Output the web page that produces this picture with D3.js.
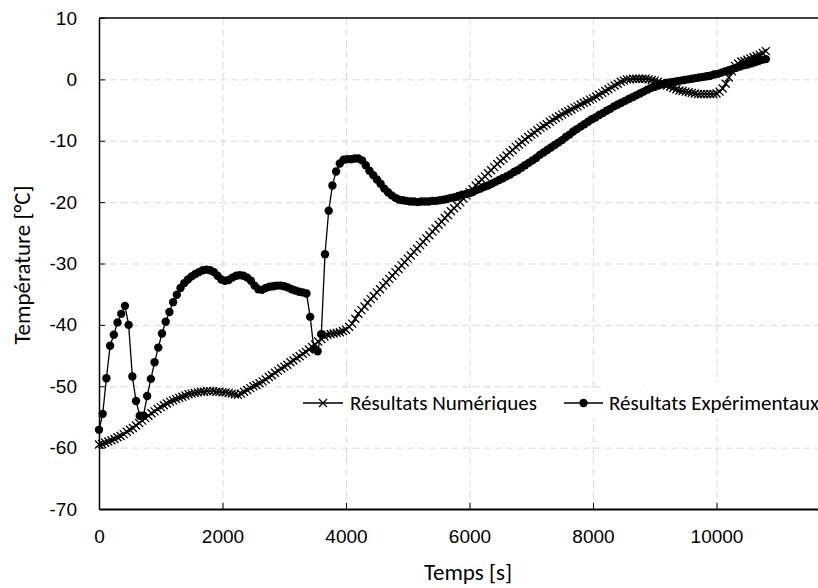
<!DOCTYPE html>
<html>
<head>
<meta charset="utf-8">
<script src="https://cdn.jsdelivr.net/npm/d3@7"></script>
<style>
  body { margin: 0; background: #fff; }
  #chart svg { display: block; font-family: Carlito, Calibri, Lato, sans-serif; }
</style>
</head>
<body>
<div id="chart"></div>
<script>
// Numerical results, one value every 50 s from 0 s
const numStep = 50
const numTemps = [
    -59.5, -59.4, -59.2, -59.0, -58.8, -58.6, -58.3, -58.1, -57.8, -57.4, -57.1, -56.8, -56.4, -56.0, -55.6, -55.2, -54.8, -54.4, -54.1, -53.7,
    -53.4, -53.1, -52.8, -52.5, -52.3, -52.1, -51.9, -51.7, -51.5, -51.3, -51.2, -51.1, -51.0, -50.9, -50.9, -50.8, -50.8, -50.8, -50.9, -50.9,
    -51.0, -51.0, -51.1, -51.2, -51.3, -51.4, -51.2, -50.9, -50.6, -50.3, -50.0, -49.8, -49.5, -49.2, -48.9, -48.5, -48.2, -47.8, -47.5, -47.1,
    -46.8, -46.5, -46.1, -45.8, -45.4, -45.1, -44.7, -44.4, -44.0, -43.6, -43.2, -42.7, -42.3, -41.9, -41.6, -41.5, -41.4, -41.3, -41.2, -41.0,
    -40.8, -40.3, -39.8, -39.0, -38.2, -37.6, -37.0, -36.4, -35.8, -35.3, -34.7, -34.2, -33.6, -33.1, -32.5, -32.0, -31.4, -30.9, -30.3, -29.8,
    -29.2, -28.7, -28.1, -27.6, -27.0, -26.5, -25.9, -25.4, -24.8, -24.3, -23.7, -23.2, -22.6, -22.1, -21.5, -21.0, -20.5, -20.0, -19.4, -18.9,
    -18.4, -17.9, -17.3, -16.8, -16.3, -15.8, -15.3, -14.8, -14.3, -13.8, -13.3, -12.9, -12.4, -11.9, -11.5, -11.0, -10.6, -10.2, -9.8, -9.4,
    -9.0, -8.7, -8.3, -7.9, -7.6, -7.3, -6.9, -6.6, -6.3, -6.0, -5.7, -5.4, -5.2, -4.9, -4.6, -4.4, -4.1, -3.8, -3.6, -3.3,
    -3.1, -2.8, -2.5, -2.2, -1.9, -1.6, -1.3, -1.0, -0.7, -0.4, -0.2, 0.0, 0.0, 0.1, 0.1, 0.1, 0.1, 0.1, 0.0, -0.1,
    -0.2, -0.4, -0.6, -0.8, -1.0, -1.2, -1.4, -1.6, -1.8, -1.9, -2.0, -2.1, -2.2, -2.3, -2.4, -2.4, -2.4, -2.4, -2.4, -2.4,
    -2.3, -2.0, -1.5, -0.7, 0.3, 1.3, 2.2, 2.6, 2.9, 3.0, 3.2, 3.4, 3.6, 3.8, 4.0, 4.3, 4.6
]

// Experimental results, one value every 60 s from 0 s
const expStep = 60
const expTemps = [
    -57.1, -54.5, -48.7, -43.4, -41.6, -39.6, -38.2, -36.9, -40.0, -48.4,
    -52.4, -54.8, -54.8, -51.6, -48.8, -46.1, -43.7, -41.4, -39.5, -37.9,
    -36.3, -35.1, -34.0, -33.2, -32.6, -32.1, -31.7, -31.4, -31.1, -31.0,
    -31.1, -31.4, -32.0, -32.6, -32.8, -32.7, -32.3, -32.0, -31.9, -32.0,
    -32.3, -32.8, -33.6, -34.2, -34.3, -34.0, -33.8, -33.7, -33.6, -33.6,
    -33.7, -33.9, -34.2, -34.4, -34.6, -34.7, -34.9, -38.7, -43.9, -44.3,
    -41.5, -28.5, -21.4, -17.3, -15.0, -13.7, -13.1, -13.0, -13.0, -12.9,
    -12.9, -13.2, -14.0, -14.9, -15.6, -16.3, -17.0, -17.8, -18.4, -18.9,
    -19.3, -19.6, -19.7, -19.8, -19.9, -19.9, -20.0, -19.9, -19.9, -19.9,
    -19.8, -19.8, -19.7, -19.6, -19.5, -19.3, -19.2, -19.0, -18.8, -18.7,
    -18.5, -18.3, -18.0, -17.8, -17.5, -17.3, -17.0, -16.7, -16.4, -16.1,
    -15.8, -15.5, -15.1, -14.8, -14.4, -14.0, -13.6, -13.2, -12.8, -12.3,
    -11.9, -11.5, -11.1, -10.7, -10.3, -9.9, -9.4, -9.0, -8.5, -8.1,
    -7.7, -7.3, -6.9, -6.5, -6.2, -5.8, -5.5, -5.1, -4.8, -4.4,
    -4.1, -3.8, -3.5, -3.2, -2.9, -2.6, -2.3, -2.0, -1.7, -1.4,
    -1.2, -1.0, -0.8, -0.6, -0.5, -0.4, -0.3, -0.2, -0.1, 0.0,
    0.1, 0.2, 0.3, 0.4, 0.5, 0.6, 0.8, 0.9, 1.1, 1.3,
    1.5, 1.7, 1.9, 2.1, 2.3, 2.4, 2.6, 2.8, 3.0, 3.2,
    3.3
]

const xTicks = [0, 2000, 4000, 6000, 8000, 10000]
const yTicks = [10, 0, -10, -20, -30, -40, -50, -60, -70]
const seriesNames = ["Résultats Numériques", "Résultats Expérimentaux"]
const xTitle = "Temps [s]"
const yTitle = "Température [°C]"

function drawChart() {
    const width = 818,
        height = 588,
        // the plot runs past the right edge of the picture (x max is 12000)
        plot = { left: 99, top: 18, right: 840, bottom: 509 },
        gridColor = "#d9d9d9",
        crossSize = 4,
        dotRadius = 4.2

    const svg = d3.select("#chart")
        .append("svg")
        .attr("width", width)
        .attr("height", height)
        .style("overflow", "hidden")

    const x = d3.scaleLinear().domain([0, 12000]).range([plot.left, plot.right])
    const y = d3.scaleLinear().domain([-70, 10]).range([plot.bottom, plot.top])

    const numData = numTemps.map((v, i) => ({ t: i * numStep, v }))
    const expData = expTemps.map((v, i) => ({ t: i * expStep, v }))

    // dashed grid lines
    svg.append("g")
        .attr("transform", "translate(0," + plot.bottom + ")")
        .call(d3.axisBottom(x).tickValues(xTicks.slice(1)).tickSize(-(plot.bottom - plot.top)).tickFormat(""))
        .call(g => g.select(".domain").remove())
        .selectAll("line")
        .attr("stroke", gridColor)
        .attr("stroke-dasharray", "7,4")

    svg.append("g")
        .attr("transform", "translate(" + plot.left + ",0)")
        .call(d3.axisLeft(y).tickValues(yTicks.slice(1, -1)).tickSize(-(plot.right - plot.left)).tickFormat(""))
        .call(g => g.select(".domain").remove())
        .selectAll("line")
        .attr("stroke", gridColor)
        .attr("stroke-dasharray", "7,4")

    // legend background hides the grid behind it
    svg.append("rect")
        .attr("x", 298).attr("y", 390).attr("width", 307).attr("height", 28)
        .attr("fill", "#fff")
    svg.append("rect")
        .attr("x", 605).attr("y", 383).attr("width", 213).attr("height", 35)
        .attr("fill", "#fff")

    const line = d3.line().x(d => x(d.t)).y(d => y(d.v))
    const crossPath = "M" + (-crossSize) + "," + (-crossSize) + "L" + crossSize + "," + crossSize +
        "M" + (-crossSize) + "," + crossSize + "L" + crossSize + "," + (-crossSize)

    // numerical series: line with x markers
    svg.append("path")
        .datum(numData)
        .attr("fill", "none")
        .attr("stroke", "#000")
        .attr("stroke-width", 1.3)
        .attr("d", line)

    svg.append("g")
        .selectAll("path")
        .data(numData)
        .join("path")
        .attr("transform", d => "translate(" + x(d.t) + "," + y(d.v) + ")")
        .attr("d", crossPath)
        .attr("stroke", "#000")
        .attr("stroke-width", 1.3)

    // experimental series: line with round markers
    svg.append("path")
        .datum(expData)
        .attr("fill", "none")
        .attr("stroke", "#000")
        .attr("stroke-width", 1.3)
        .attr("d", line)

    svg.append("g")
        .selectAll("circle")
        .data(expData)
        .join("circle")
        .attr("cx", d => x(d.t))
        .attr("cy", d => y(d.v))
        .attr("r", dotRadius)
        .attr("fill", "#000")

    // axes
    const xAxis = svg.append("g")
        .attr("transform", "translate(0," + plot.bottom + ")")
        .call(d3.axisBottom(x).tickValues(xTicks).tickFormat(d => String(d))
            .tickSizeInner(-6).tickSizeOuter(0).tickPadding(21))
    xAxis.select(".domain").attr("stroke-width", 2)

    const yAxis = svg.append("g")
        .attr("transform", "translate(" + plot.left + ",0)")
        .call(d3.axisLeft(y).tickValues(yTicks).tickFormat(d => String(d))
            .tickSizeInner(-6).tickSizeOuter(0).tickPadding(22))
    yAxis.select(".domain").attr("stroke-width", 1.5)

    svg.selectAll(".tick text")
        .attr("font-family", null)
        .attr("font-size", 19)
        .attr("fill", "#000")

    // top border of the plot area
    svg.append("line")
        .attr("x1", plot.left).attr("x2", plot.right)
        .attr("y1", plot.top).attr("y2", plot.top)
        .attr("stroke", "#000")
        .attr("stroke-width", 1.5)

    // axis titles
    svg.append("text")
        .attr("x", 468).attr("y", 580)
        .attr("text-anchor", "middle")
        .attr("font-size", 23)
        .text(xTitle)

    svg.append("text")
        .attr("transform", "translate(30,265) rotate(-90)")
        .attr("text-anchor", "middle")
        .attr("font-size", 23)
        .text(yTitle)

    // legend
    const legendY = 403
    const legendItems = [
        { x1: 303, x2: 343, tx: 350, marker: "cross" },
        { x1: 564, x2: 603, tx: 609, marker: "dot" }
    ]
    legendItems.forEach((item, i) => {
        svg.append("line")
            .attr("x1", item.x1).attr("x2", item.x2)
            .attr("y1", legendY).attr("y2", legendY)
            .attr("stroke", "#000")
            .attr("stroke-width", 1.3)
        const cx = (item.x1 + item.x2) / 2
        if (item.marker === "cross") {
            svg.append("path")
                .attr("transform", "translate(" + cx + "," + legendY + ")")
                .attr("d", crossPath)
                .attr("stroke", "#000")
                .attr("stroke-width", 1.3)
        } else {
            svg.append("circle")
                .attr("cx", cx).attr("cy", legendY).attr("r", dotRadius)
                .attr("fill", "#000")
        }
        svg.append("text")
            .attr("x", item.tx)
            .attr("y", legendY + 7)
            .attr("font-size", 21)
            .text(seriesNames[i])
    })
}

window.addEventListener("load", drawChart)
</script>
</body>
</html>
